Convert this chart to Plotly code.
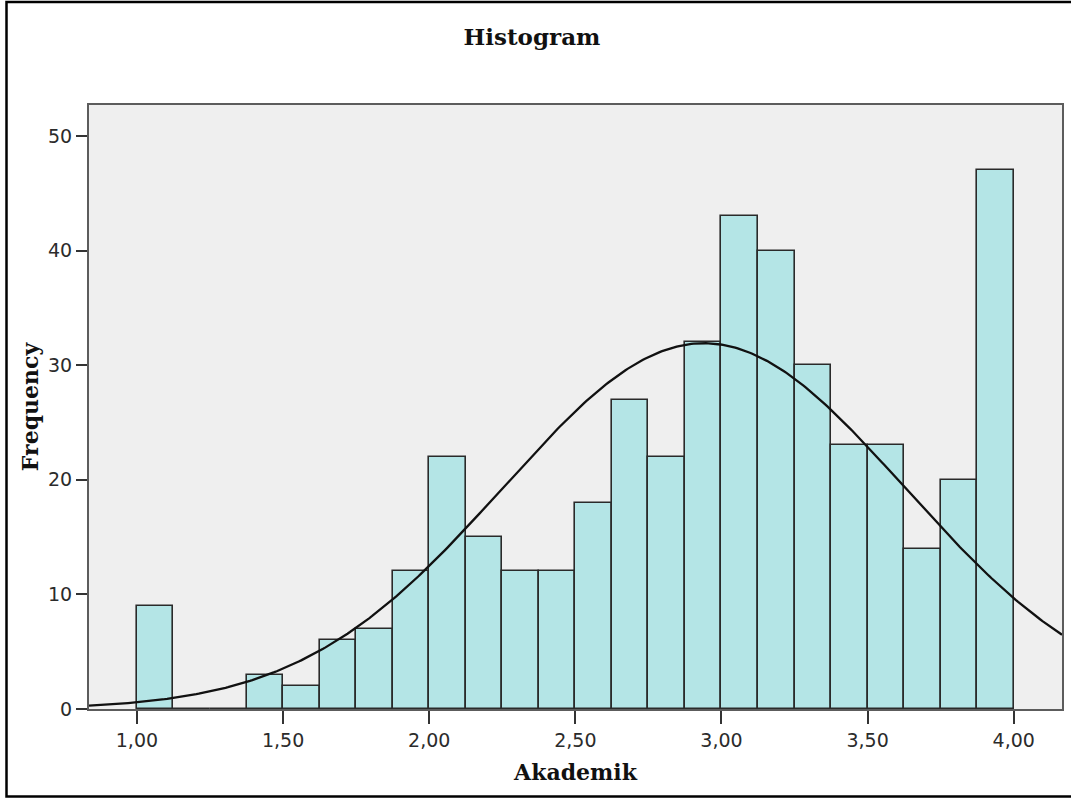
import numpy as np
import plotly.graph_objects as go

# ---- data ----
bin_start = 1.0
bin_width = 0.125
counts = [9, 0, 0, 3, 2, 6, 7, 12, 22, 15, 12, 12,
          18, 27, 22, 32, 43, 40, 30, 23, 23, 14, 20, 47]
n_total = sum(counts)
curve_mean = 2.94
curve_sd = 0.686

x_tickvals = [1.0, 1.5, 2.0, 2.5, 3.0, 3.5, 4.0]
x_ticktext = ["1,00", "1,50", "2,00", "2,50", "3,00", "3,50", "4,00"]
y_tickvals = [0, 10, 20, 30, 40, 50]

x_range = [0.836, 4.165]
y_range = [0, 52.7]

# ---- figure ----
W, H = 1071, 798
L, R, T, B = 89, 9, 105, 89

centers = [bin_start + (i + 0.5) * bin_width for i in range(len(counts))]

fig = go.Figure()
fig.add_trace(go.Bar(
    x=centers, y=counts, width=bin_width,
    marker=dict(color="#b4e5e6", line=dict(color="#2a2a2a", width=1.6)),
    hoverinfo="x+y", showlegend=False,
))

xs = np.linspace(x_range[0], x_range[1], 400)
ys = n_total * bin_width / (curve_sd * np.sqrt(2 * np.pi)) * np.exp(-0.5 * ((xs - curve_mean) / curve_sd) ** 2)
fig.add_trace(go.Scatter(x=xs, y=ys, mode="lines",
                         line=dict(color="#111111", width=2.3),
                         showlegend=False, hoverinfo="skip"))

pw = W - L - R
ph = H - T - B

def px_to_paper_x(px):
    return (px - L) / pw

def px_to_paper_y(py):
    return (H - B - py) / ph

fig.add_shape(type="rect", xref="paper", yref="paper",
              x0=px_to_paper_x(6.5), x1=px_to_paper_x(1078),
              y0=px_to_paper_y(796.5), y1=px_to_paper_y(2),
              line=dict(color="#000000", width=2.5), fillcolor="rgba(0,0,0,0)",
              layer="below")

axis_common = dict(
    showgrid=False, zeroline=False, showline=True, mirror=True,
    linecolor="#5c5c5c", linewidth=2,
    ticks="outside", tickcolor="#333333", tickwidth=2,
    tickfont=dict(family="DejaVu Sans", size=19, color="#2b2b2b"),
)

fig.update_layout(
    width=W, height=H,
    margin=dict(l=L, r=R, t=T, b=B, autoexpand=False),
    paper_bgcolor="white", plot_bgcolor="#efefef",
    bargap=0,
    title=dict(text="<b>Histogram</b>", x=532 / W, xref="container", xanchor="center",
               y=1 - 37 / H, yref="container", yanchor="middle",
               font=dict(family="DejaVu Serif", size=23, color="#111111")),
    xaxis=dict(range=x_range, tickvals=x_tickvals, ticktext=x_ticktext,
               ticklen=13,
               title=dict(text="<b>Akademik</b>", standoff=15,
                          font=dict(family="DejaVu Serif", size=22, color="#111111")),
               **axis_common),
    yaxis=dict(range=y_range, tickvals=y_tickvals, ticklen=11,
               title=dict(text="<b>Frequency</b>", standoff=3,
                          font=dict(family="DejaVu Serif", size=22, color="#111111")),
               **axis_common),
)
fig.update_xaxes(automargin=False)
fig.update_yaxes(automargin=False)

fig.write_html("out.html", config={"displayModeBar": False})

# remove the browser's default page margin so the figure sits at (0, 0)
with open("out.html", "r", encoding="utf-8") as f:
    html = f.read()
html = html.replace("<head>", "<head><style>html,body{margin:0;padding:0;overflow:hidden;}</style>", 1)
with open("out.html", "w", encoding="utf-8") as f:
    f.write(html)
